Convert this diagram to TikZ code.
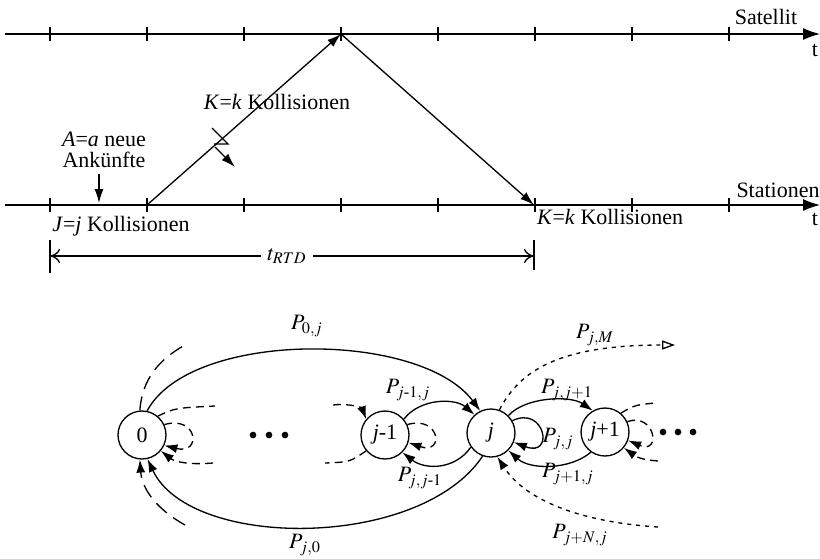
\documentclass[tikz,border=0pt]{standalone}
\usepackage{amsmath}
\usepackage{mathptmx}
\usepackage{fontspec}
\setmainfont{Liberation Serif}
\usetikzlibrary{arrows.meta}

\begin{document}
\begin{tikzpicture}[x=0.02cm, y=-0.02cm, line width=0.75pt,
  font=\fontsize{12.5}{14}\selectfont,
  pfeil/.style={-{Latex[length=2.8mm,width=1.8mm]}},
  achse/.style={-{Latex[length=3.4mm,width=2.4mm]}},
  mass/.style={-{To[length=2mm,width=2.8mm]}},
  zustand/.style={circle, draw, minimum size=0.96cm, inner sep=0pt},
  spitze/.style={-{Latex[length=2.6mm,width=1.8mm]}},
  langdash/.style={dash pattern=on 8pt off 4.5pt},
  kurzdash/.style={dash pattern=on 4.5pt off 3pt},
  punktiert/.style={dash pattern=on 2.3pt off 2.8pt}]

\useasboundingbox (0,0) rectangle (820,558);

% zeitachsen
\draw[achse] (5,34) -- (820,34);
\draw[achse] (5,205) -- (820,205);
\foreach \x in {50,147,244,341,438,535,632,729} {
  \draw (\x,27) -- (\x,41);
  \draw (\x,198) -- (\x,212);
}
\node (satlabel) at (766,17) {Satellit};
\node (statlabel) at (778,190) {Stationen};
\node (t1) at (815,50) {t};
\node (t2) at (815,219) {t};

% uebertragung
\coordinate (send) at (147,205);
\coordinate (sat) at (341,34);
\coordinate (empf) at (534,205);
\draw[pfeil] (send) -- (sat);
\draw[pfeil] (sat) -- (empf);
\node (kkoll) at (277,102) {\textit{K}=\textit{k} Kollisionen};

% kollision
\draw (212,128) -- (228,144) -- (214,144);
\draw[pfeil] (215,147) -- (235,167);

% neue ankuenfte
\node[align=center, font=\fontsize{12.5}{12}\selectfont] (anktext) at (104,150) {\textit{A}=\textit{a} neue\\Ankünfte};
\coordinate (ankunft) at (99,203);
\draw[pfeil] (anktext.south -| ankunft) -- (ankunft);
\node (jkoll) at (121,226) {\textit{J}=\textit{j} Kollisionen};
\node (kkoll2) at (610,217) {\textit{K}=\textit{k} Kollisionen};

% t_RTD
\draw (50,240) -- (50,273);
\draw (534,240) -- (534,270);
\coordinate (dl) at (50,256);
\coordinate (dr) at (534,256);
\node (trtd) at (287,256) {$t_{RTD}$};
\draw[mass] (trtd) -- (dl);
\draw[mass] (trtd) -- (dr);

% zustaende
\node[zustand] (n0) at (142,435) {0};
\node[zustand] (njm) at (385,435) {\textit{j}-1};
\node[zustand] (nj) at (491,433) {\textit{j}};
\node[zustand] (njp) at (605,432) {\textit{j}+1};
\foreach \x in {253,269,285} \fill (\x,435) circle[radius=1.9pt];
\foreach \x in {663,678,693} \fill (\x,432) circle[radius=1.9pt];

% grosse boegen
\draw[spitze] (n0.78) .. controls (190,330) and (420,330) .. (nj.116);
\draw[spitze] (nj.250) .. controls (420,550) and (190,550) .. (n0.283);
\node (l0j) at (307,326) {$P_{0,j}$};
\node (lj0) at (305,545) {$P_{j,0}$};

% zustand 0
\coordinate (a0) at (185,345);
\coordinate (b0) at (185,525);
\coordinate (c0) at (215,406);
\coordinate (d0) at (213,463);
\draw[langdash] (n0.95) .. controls (142,380) and (158,360) .. (a0);
\draw[langdash, spitze] (b0) .. controls (158,510) and (142,490) .. (n0.265);
\draw[kurzdash] (n0.50) .. controls (175,408) .. (c0);
\draw[kurzdash, spitze] (n0.25) .. controls (198,415) and (202,455) .. (n0.-25);
\draw[kurzdash, spitze] (d0) .. controls (190,465) and (175,462) .. (n0.-40);

% zustand j-1
\coordinate (ajm) at (333,405);
\coordinate (bjm) at (325,463);
\draw[kurzdash, spitze] (ajm) .. controls (350,403) and (362,408) .. (njm.140);
\draw[kurzdash] (njm.220) .. controls (350,462) .. (bjm);
\draw[kurzdash, spitze] (njm.25) .. controls (440,415) and (445,455) .. (njm.-18);
\draw[spitze] (njm.40) .. controls (420,398) and (455,398) .. (nj.132);
\draw[spitze] (nj.215) .. controls (455,470) and (425,470) .. (njm.-45);
\node (ljmj) at (408,390) {$P_{j\text{-}1,j}$};
\node (ljjm) at (420,478) {$P_{j,j\text{-}1}$};

% zustand j
\draw[spitze] (nj.30) .. controls (545,405) and (555,458) .. (nj.-22);
\node (ljj) at (558,439) {$P_{j,j}$};
\draw[spitze] (nj.45) .. controls (525,397) and (570,395) .. (njp.120);
\node (ljjp) at (567,390) {$P_{j,j+1}$};
\draw[spitze] (njp.235) .. controls (570,470) and (530,470) .. (nj.-45);
\node (ljpj) at (568,474) {$P_{j+1,j}$};
\coordinate (jm) at (675,345);
\draw[punktiert, -{Triangle[open,length=2.6mm,width=1.8mm]}] (nj.70) .. controls (520,370) and (560,345) .. (jm);
\node (ljM) at (595,335) {$P_{j,M}$};
\coordinate (jn) at (658,527);
\draw[punktiert, spitze] (jn) .. controls (580,522) and (525,500) .. (nj.-75);
\node (ljNj) at (580,535) {$P_{j+N,j}$};

% zustand j+1
\coordinate (ajp) at (655,403);
\coordinate (bjp) at (658,461);
\draw[kurzdash] (njp.50) .. controls (635,405) .. (ajp);
\draw[kurzdash, spitze] (njp.25) .. controls (655,412) and (662,455) .. (njp.-20);
\draw[kurzdash, spitze] (bjp) .. controls (645,460) and (638,458) .. (njp.-40);

\end{tikzpicture}
\end{document}
